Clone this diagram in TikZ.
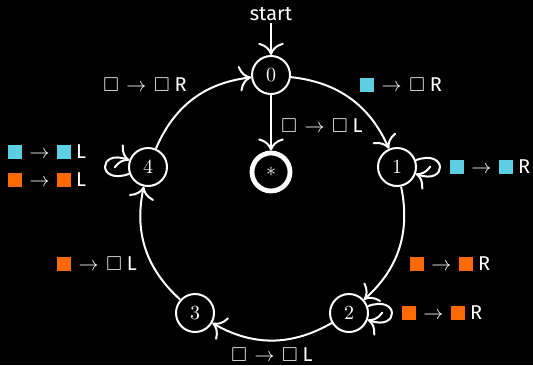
\documentclass[tikz,border=0pt]{standalone}
\usepackage{amssymb}
\usepackage{fontspec}
\setsansfont{Fira Sans}
\usetikzlibrary{arrows.meta}
\definecolor{tcyan}{HTML}{5CCFE2}
\definecolor{torange}{HTML}{FF6A00}
\newcommand{\cbx}{\textcolor{tcyan}{\rule[-0.2pt]{7pt}{7pt}}}
\newcommand{\obx}{\textcolor{torange}{\rule[-0.2pt]{7pt}{7pt}}}
\newcommand{\ebx}{$\square$}
\newcommand{\tox}{\hspace{3.8pt}$\to$\hspace{3.8pt}}
\newcommand{\mv}[1]{\hspace{2.5pt}\textsf{#1}}
\begin{document}
\begin{tikzpicture}[x=0.5pt,y=0.5pt,
  st/.style={circle, draw=white, line width=1pt, minimum size=19pt, inner sep=0pt, text=white, fill=black},
  acc/.style={st, line width=2.4pt},
  edge/.style={draw=white, line width=1pt, -{To[scale=1.6]}},
  lab/.style={text=white, inner sep=1pt, font=\sffamily}]
\fill[black] (0,0) rectangle (533,-365);
\useasboundingbox (0,0) rectangle (533,-365);

\node[lab] (start) at (271,-14) {start};
\node[st] (n0) at (271,-75) {$0$};
\node[st] (n1) at (397,-167) {$1$};
\node[st] (n2) at (349,-313) {$2$};
\node[st] (n3) at (195,-313) {$3$};
\node[st] (n4) at (148,-167) {$4$};
\node[acc] (nf) at (271,-172) {$*$};

\draw[edge] (start) -- (n0);
\draw[edge] (n0) to[bend left=30] (n1);
\draw[edge] (n1) to[bend left=30] (n2);
\draw[edge] (n2) to[bend left=30] (n3);
\draw[edge] (n3) to[bend left=30] (n4);
\draw[edge] (n4) to[bend left=30] (n0);
\draw[edge] (n0) -- (nf);
\draw[edge] (n1) to[out=20,in=-20,min distance=17pt] (n1);
\draw[edge] (n2) to[out=20,in=-20,min distance=17pt] (n2);
\draw[edge] (n4) to[out=-160,in=160,min distance=17pt] (n4);

\node[lab] (l40) at (145,-85) {\ebx\tox\ebx\mv{R}};
\node[lab] (l01) at (401,-85) {\cbx\tox\ebx\mv{R}};
\node[lab] (l0f) at (322,-126) {\ebx\tox\ebx\mv{L}};
\node[lab] (l11) at (490,-167) {\cbx\tox\cbx\mv{R}};
\node[lab, align=left] (l44) at (47,-166) {\cbx\tox\cbx\mv{L}\\[2pt]\obx\tox\obx\mv{L}};
\node[lab] (l12) at (450,-264) {\obx\tox\obx\mv{R}};
\node[lab] (l22) at (442,-313) {\obx\tox\obx\mv{R}};
\node[lab] (l34) at (97,-264) {\obx\tox\ebx\mv{L}};
\node[lab] (l23) at (272,-355) {\ebx\tox\ebx\mv{L}};
\end{tikzpicture}
\end{document}
